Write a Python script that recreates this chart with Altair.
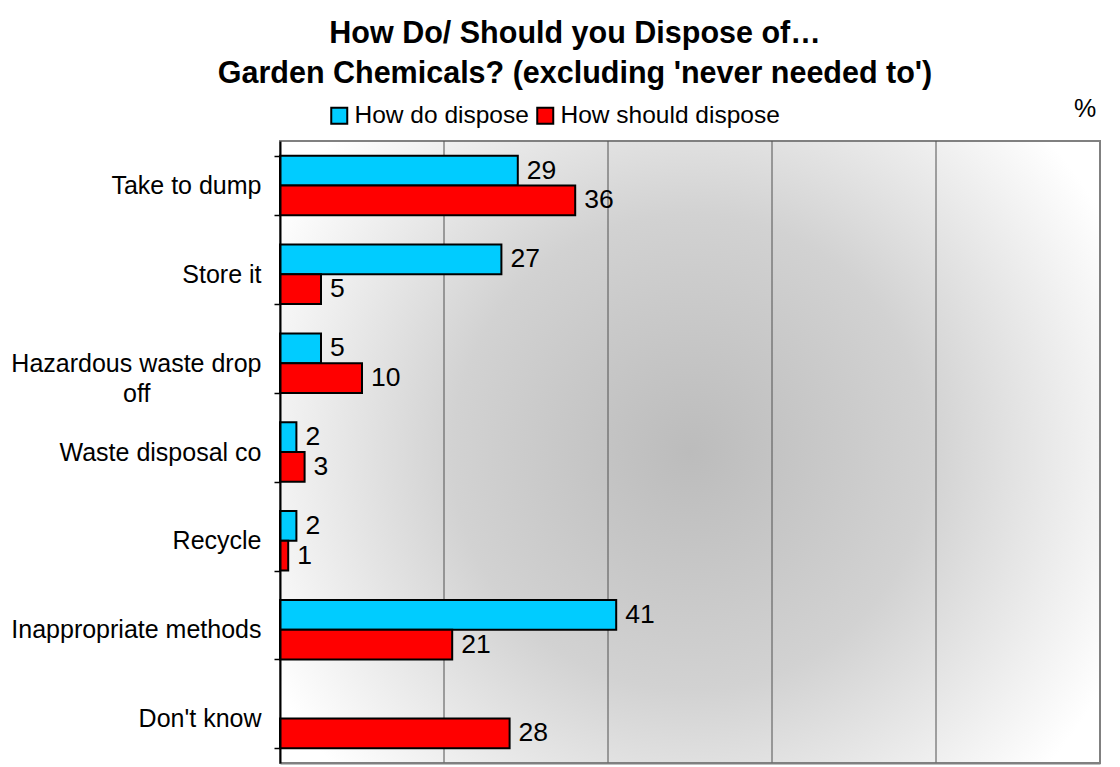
import altair as alt
import pandas as pd

categories = ["Take to dump", "Store it", "Hazardous waste drop off",
              "Waste disposal co", "Recycle", "Inappropriate methods", "Don't know"]
do_vals = [29, 27, 5, 2, 2, 41, None]
should_vals = [36, 5, 10, 3, 1, 21, 28]
series = ["How do dispose", "How should dispose"]
colors = ["#00CCFF", "#FF0000"]
grid_vals = [20, 40, 60, 80]
tick_vals = [0, 20, 40, 60, 80, 100]

rows = []
for c, d, s in zip(categories, do_vals, should_vals):
    if d is not None:
        rows.append({"cat": c, "series": series[0], "value": d})
    if s is not None:
        rows.append({"cat": c, "series": series[1], "value": s})
df = pd.DataFrame(rows)

W, H = 820, 622
FONT = "Liberation Sans"
PAD_OFF = "\u00a0" * 16 + "\u200b"

xscale = alt.Scale(domain=[0, 100], nice=False)
y_enc = alt.Y(
    "cat:N", sort=categories,
    scale=alt.Scale(paddingInner=0.33, paddingOuter=0.165),
    axis=alt.Axis(
        title=None, labelFontSize=25, labelFont=FONT, labelColor="black",
        labelPadding=13, tickBand="extent", tickSize=6, tickColor="black",
        tickWidth=1.5, domainColor="black", domainWidth=2, labelLimit=400,
        labelLineHeight=30, zindex=1,
        labelExpr="datum.value == 'Hazardous waste drop off' ? ['Hazardous waste drop', 'off" + PAD_OFF + "'] : datum.value",
    ),
)
yoff = alt.YOffset("series:N", sort=series,
                   scale=alt.Scale(paddingInner=0, paddingOuter=0))

gradient = {
    "gradient": "radial", "x1": 0.5, "y1": 0.5, "r1": 0,
    "x2": 0.5, "y2": 0.5, "r2": 0.58,
    "stops": [
        {"offset": 0, "color": "#bcbcbc"},
        {"offset": 0.5, "color": "#d2d2d2"},
        {"offset": 1, "color": "#ffffff"},
    ],
}

bg = alt.Chart(pd.DataFrame({"a": [0]})).mark_rect(
    fill=gradient, stroke="#808080", strokeWidth=2
).encode(x=alt.value(0), x2=alt.value(W), y=alt.value(0), y2=alt.value(H))

grid = alt.Chart(pd.DataFrame({"v": grid_vals})).mark_rule(
    color="#505050", strokeWidth=1
).encode(x=alt.X("v:Q", scale=xscale))

bars = alt.Chart(df).mark_bar(stroke="black", strokeWidth=2).encode(
    y=y_enc,
    yOffset=yoff,
    x=alt.X("value:Q", scale=xscale,
            axis=alt.Axis(values=tick_vals, grid=False, title=None,
                          labels=False, ticks=False,
                          domainColor="#808080", domainWidth=2, zindex=1)),
    color=alt.Color("series:N", sort=series,
                    scale=alt.Scale(domain=series, range=colors),
                    legend=alt.Legend(orient="none", legendX=47, legendY=-38,
                                      direction="horizontal", title=None,
                                      symbolType="square", symbolSize=256,
                                      symbolStrokeColor="black",
                                      symbolStrokeWidth=2, symbolOpacity=1,
                                      labelFontSize=24.5, labelFont=FONT,
                                      labelColor="black", columnPadding=4,
                                      labelOffset=3, padding=0,
                                      labelLimit=400)),
)

labels = alt.Chart(df).mark_text(
    align="left", baseline="middle", dx=9, fontSize=26.5, font=FONT, color="black"
).encode(y=y_enc, yOffset=yoff, x=alt.X("value:Q", scale=xscale),
         text=alt.Text("value:Q"))

pct = alt.Chart(pd.DataFrame({"t": ["%"]})).mark_text(
    fontSize=25, font=FONT, color="black", baseline="middle", align="center"
).encode(text="t:N", x=alt.value(805), y=alt.value(-32))

chart = alt.layer(bg, grid, bars, labels, pct).properties(
    width=W, height=H,
    padding={"left": 2, "top": 10, "right": 5, "bottom": 5},
    title=alt.TitleParams(
        text=["How Do/ Should you Dispose of\u2026",
              "Garden Chemicals? (excluding 'never needed to')"],
        fontSize=30.5, font=FONT, fontWeight="bold", lineHeight=40,
        anchor="middle", offset=8, dx=-115, color="black",
    ),
).configure_view(stroke=None).configure(background="white")

chart.save("out.html", embed_options={"renderer": "svg", "actions": False})
